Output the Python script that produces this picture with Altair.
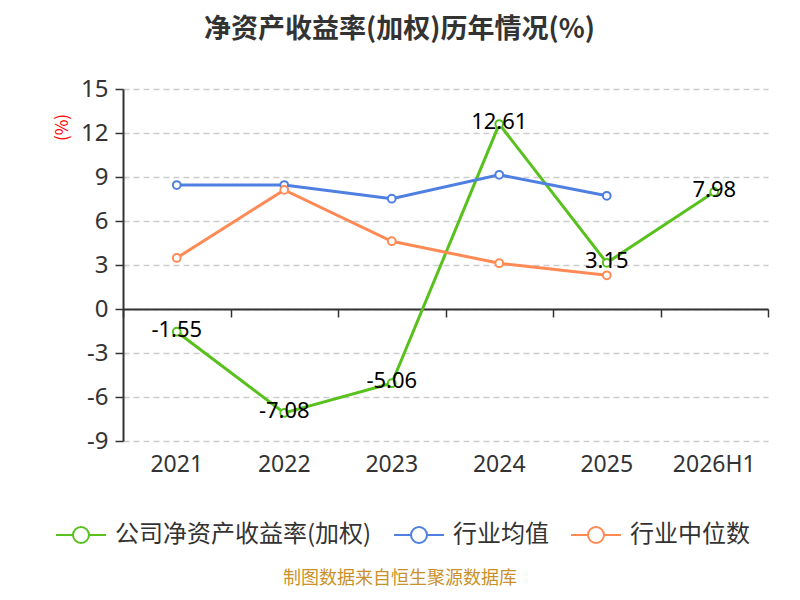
import altair as alt
import pandas as pd

years = ["2021", "2022", "2023", "2024", "2025", "2026H1"]
company = [-1.55, -7.08, -5.06, 12.61, 3.15, 7.98]
industry_avg = [8.45, 8.45, 7.52, 9.15, 7.72, None]
industry_median = [3.48, 8.12, 4.62, 3.12, 2.3, None]
series_names = ["公司净资产收益率(加权)", "行业均值", "行业中位数"]
series_colors = ["#58c11d", "#4e7fe1", "#ff8a55"]
y_ticks = [-9, -6, -3, 0, 3, 6, 9, 12, 15]

rows = []
for name, vals in zip(series_names, [company, industry_avg, industry_median]):
    for yr, v in zip(years, vals):
        if v is not None:
            rows.append({"year": yr, "value": v, "series": name, "label": f"{v:.2f}"})
df = pd.DataFrame(rows)

FONT = "Noto Sans CJK SC"
NUM_FONT = "Noto Sans"
x_scale = alt.Scale(type="band", paddingInner=0, paddingOuter=0, domain=years)
y_enc = alt.Y(
    "value:Q",
    scale=alt.Scale(domain=[-9, 15], nice=False, zero=False),
    axis=alt.Axis(
        values=y_ticks, title="(%)", titleColor="red", titleFont=FONT,
        titleFontSize=17, titleFontWeight="normal", titleAngle=270,
        titleX=-61, titleY=38, titleAlign="center", titleBaseline="middle",
        labelFont=NUM_FONT, labelFontSize=24, labelColor="#333", labelPadding=7,
        labelExpr="toString(datum.value)",
        domainColor="#333", domainWidth=2, tickColor="#333", tickSize=8, tickWidth=1.5,
        gridColor="#cccccc", gridDash=[6, 4], gridWidth=1.5,
    ),
)

legend_symbol = ("M-1,0L-0.32,0M0.32,0L1,0M0.32,0A0.32,0.32 0 1,1 -0.32,0"
                 "A0.32,0.32 0 1,1 0.32,0")
color_enc = alt.Color(
    "series:N",
    scale=alt.Scale(domain=series_names, range=series_colors),
    legend=alt.Legend(
        title=None, orient="none", direction="horizontal", legendX=-68, legendY=420,
        symbolType=legend_symbol, symbolSize=2500, symbolStrokeWidth=2,
        symbolFillColor="white", labelFont=FONT, labelFontSize=24, labelColor="#333",
        columnPadding=18, labelOffset=8, symbolOffset=0, labelLimit=400,
    ),
)

lines = alt.Chart(df).mark_line(
    strokeWidth=3,
    point=alt.OverlayMarkDef(filled=False, fill="white", size=60, strokeWidth=2),
).encode(
    x=alt.X("year:N", sort=years, scale=x_scale,
            axis=alt.Axis(orient="bottom", offset=-132, labels=False, title=None,
                          domainColor="#333", domainWidth=2, tickColor="#333",
                          tickSize=8, tickWidth=1.5, tickBand="extent", grid=False)),
    y=y_enc,
    color=color_enc,
)

labels = alt.Chart(df[df["series"] == series_names[0]]).mark_text(
    font=NUM_FONT, fontSize=22, color="#000", baseline="middle", dy=-2
).encode(
    x=alt.X("year:N", sort=years, scale=x_scale,
            axis=alt.Axis(orient="bottom", domain=False, ticks=False, title=None,
                          labelFont=NUM_FONT, labelFontSize=23, labelColor="#333",
                          labelPadding=12, grid=False, labelAngle=0)),
    y=y_enc,
    text="label:N",
)

footer = alt.Chart(pd.DataFrame({"t": ["制图数据来自恒生聚源数据库"]})).mark_text(
    font=FONT, fontSize=18, color="#c9912c", baseline="middle"
).encode(x=alt.value(277), y=alt.value(490), text="t:N")

chart = alt.layer(lines, labels, footer).resolve_axis(x="independent").properties(
    width=645, height=352,
    autosize=alt.AutoSizeParams(type="none"),
    padding={"left": 115, "top": 81, "right": 24, "bottom": 150},
    title=alt.TitleParams(
        "净资产收益率(加权)历年情况(%)", font=FONT, fontSize=27, fontWeight="bold",
        color="#333", anchor="middle", dx=-46, offset=33,
    ),
).configure_view(stroke=None)

chart.save("out.html", embed_options={"renderer": "svg", "actions": False})
